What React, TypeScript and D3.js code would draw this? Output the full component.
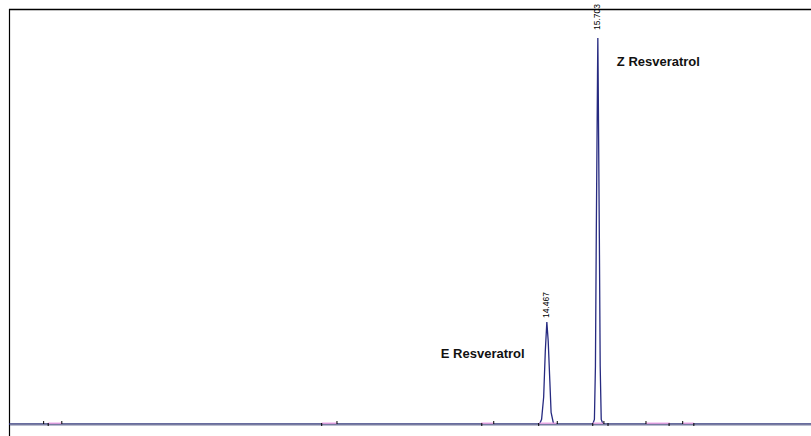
import React from "react";
import * as d3 from "d3";

// Retention time axis (minutes) and response (relative units)
const traceTimes = [1.43, 14.29, 14.34, 14.39, 14.43, 14.467, 14.50, 14.54, 14.57, 14.63, 15.58, 15.62, 15.645, 15.665, 15.695, 15.703, 15.711, 15.74, 15.76, 15.785, 15.83, 20.87];
const traceValues = [0, 0, 12, 70, 190, 264, 215, 110, 30, 0, 0, 12, 150, 482, 900, 1000, 900, 482, 150, 12, 0, 0];

const peakTimes = [14.467, 15.703];
const peakValues = [264, 1000];
const peakLabels = ["14.467", "15.703"];
const compoundNames = ["E Resveratrol", "Z Resveratrol"];

// integration baseline segments (start, end) and event ticks
const segStarts = [2.38, 9.01, 12.87, 14.28, 15.57, 16.87, 17.76];
const segEnds = [2.71, 9.38, 13.18, 14.70, 15.84, 17.45, 18.03];
const tickTimes = [2.27, 2.38, 2.71, 9.01, 9.38, 12.89, 13.18, 14.27, 14.72, 15.58, 15.85, 15.95, 16.87, 17.43, 17.76, 18.03];

const W = 811;
const H = 436;

export default function App() {
  const x = d3.scaleLinear().domain([1.43, 20.87]).range([9, 811]);
  const y = d3.scaleLinear().domain([0, 1000]).range([424, 38]);
  const pts: [number, number][] = traceTimes.map((t, i) => [t, traceValues[i]]);
  const line = d3
    .line<[number, number]>()
    .x((d) => x(d[0]))
    .y((d) => y(d[1]));

  const labelOffsets = [[-1, 4], [-1, 8]];
  const namePos = [
    { dx: -106, v: 264 * 0.7 },
    { dx: 19, v: 1000 * 0.94 },
  ];

  return (
    <svg
      width={W}
      height={H}
      style={{ position: "absolute", left: 0, top: 0, background: "#fff" }}
      fontFamily="'Liberation Sans', Arial, sans-serif"
    >
      <rect x={0} y={0} width={W} height={H} fill="#fff" />
      {/* frame */}
      <line x1={9} x2={W} y1={9.5} y2={9.5} stroke="#000" strokeWidth={1.5} />
      <line x1={9.5} x2={9.5} y1={9} y2={H} stroke="#000" strokeWidth={1.2} />

      {/* trace */}
      <path d={line(pts) || ""} fill="none" stroke="#262a80" strokeWidth={1.3} />

      {/* baseline */}
      <line x1={10} x2={W} y1={y(0) + 0.5} y2={y(0) + 0.5} stroke="#777ba0" strokeWidth={2} />

      {/* integration segments */}
      {segStarts.map((s, i) => (
        <line
          key={"s" + i}
          x1={x(s)}
          x2={x(segEnds[i])}
          y1={y(0) - 0.8}
          y2={y(0) - 0.8}
          stroke="#eaa2e6"
          strokeWidth={1.3}
        />
      ))}
      {tickTimes.map((t, i) => (
        <line
          key={"t" + i}
          x1={x(t)}
          x2={x(t)}
          y1={y(0) - 3 + (i % 2) * 2}
          y2={y(0) + (i % 2) * 2}
          stroke="#000"
          strokeWidth={1}
        />
      ))}

      {/* peak labels */}
      {peakTimes.map((t, i) => {
        const px = x(t) + labelOffsets[i][0];
        const py = y(peakValues[i]) - labelOffsets[i][1];
        return (
          <text
            key={"p" + i}
            transform={`translate(${px},${py}) rotate(-90)`}
            fontSize={8.5}
            fill="#000"
            dy="0.35em"
          >
            {peakLabels[i]}
          </text>
        );
      })}

      {/* compound names */}
      {peakTimes.map((t, i) => (
        <text
          key={"n" + i}
          x={x(t) + namePos[i].dx}
          y={y(namePos[i].v) + 5}
          fontSize={13}
          fontWeight="bold"
          fill="#111"
        >
          {compoundNames[i]}
        </text>
      ))}
    </svg>
  );
}
